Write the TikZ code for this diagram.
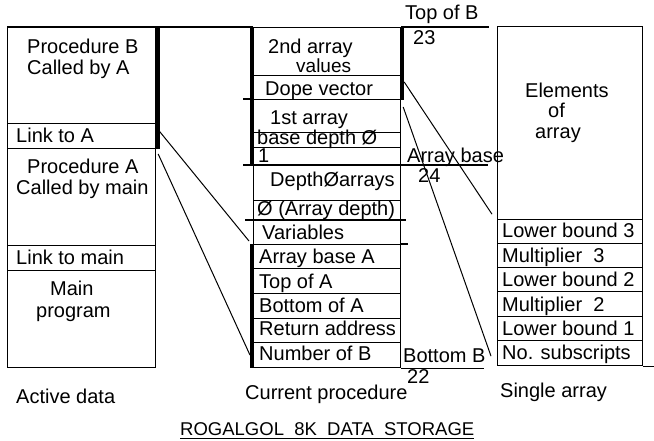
\documentclass[tikz,border=0pt]{standalone}
\usepackage{fontspec}
\setmainfont{Liberation Sans}
\usetikzlibrary{calc}
\begin{document}
\begin{tikzpicture}[x=1pt,y=-1pt,
  cell/.style={draw, line width=1.2pt, rectangle, inner sep=0pt, anchor=north west},
  txt/.style={anchor=base west, inner sep=0pt, font=\fontsize{20}{22}\selectfont},
  boldedge/.style={line width=4.5pt},
  rule/.style={line width=1.2pt},
  link/.style={line width=1pt}]
\useasboundingbox (0,0) rectangle (654,441);

% ---- left column: active data
\node[cell, minimum width=148, minimum height=96] (procB) at (7,27) {};
\node[cell, minimum width=148, minimum height=25] (linkA) at (7,123) {};
\node[cell, minimum width=148, minimum height=97] (procA) at (7,148) {};
\node[cell, minimum width=148, minimum height=25] (linkMain) at (7,245) {};
\node[cell, minimum width=148, minimum height=97] (mainProg) at (7,270) {};

% ---- middle column: current procedure
\node[cell, minimum width=147, minimum height=48] (arr2) at (253,27) {};
\node[cell, minimum width=147, minimum height=24] (dope) at (253,75) {};
\node[cell, minimum width=147, minimum height=33] (arr1) at (253,99) {};
\node[cell, minimum width=147, minimum height=15] (bdepth) at (253,132) {};
\node[cell, minimum width=147, minimum height=18] (one) at (253,147) {};
\node[cell, minimum width=147, minimum height=35] (depth0) at (253,165) {};
\node[cell, minimum width=147, minimum height=20] (adepth) at (253,200) {};
\node[cell, minimum width=147, minimum height=24] (vars) at (253,220) {};
\node[cell, minimum width=147, minimum height=24] (abaseA) at (253,244) {};
\node[cell, minimum width=147, minimum height=25] (topA) at (253,268) {};
\node[cell, minimum width=147, minimum height=25] (botA) at (253,293) {};
\node[cell, minimum width=147, minimum height=24] (retaddr) at (253,318) {};
\node[cell, minimum width=147, minimum height=25] (numB) at (253,342) {};

% ---- right column: single array
\node[cell, minimum width=145, minimum height=193] (elems) at (497,26) {};
\node[cell, minimum width=145, minimum height=24] (lbA) at (497,219) {};
\node[cell, minimum width=145, minimum height=24] (mA) at (497,243) {};
\node[cell, minimum width=145, minimum height=24] (lbB) at (497,267) {};
\node[cell, minimum width=145, minimum height=25] (mB) at (497,291) {};
\node[cell, minimum width=145, minimum height=24] (lbC) at (497,316) {};
\node[cell, minimum width=145, minimum height=25] (nsub) at (497,340) {};

% ---- heavy edges
\draw[boldedge] ($(procB.north east)+(1.5,0)$) -- ($(linkA.south east)+(1.5,0)$);
\draw[boldedge] ($(arr2.north west)+(-1,0)$) -- ($(one.south west)+(-1,0)$);
\draw[boldedge] ($(abaseA.north west)+(-1,0)$) -- ($(numB.south west)+(-1,0)$);
\draw[boldedge] ($(arr2.north east)+(1,0)$) -- ($(dope.south east)+(1,0)$);

% ---- horizontal rules
\draw[rule] (procB.north west) -- (arr2.north west);
\draw[rule] (arr2.north east) -- ++(88,0);
\draw[rule] ($(arr1.north west)+(-10,0)$) -- (arr1.north west);
\draw[rule] ($(depth0.north west)+(-10,0)$) -- ($(depth0.north east)+(87,0)$);
\draw[rule] ($(vars.north west)+(-8,0)$) -- ($(vars.north east)+(5,0)$);
\draw[rule] (abaseA.north east) -- ++(7,0);
\draw[rule] (numB.south east) -- ++(83,0);
\draw[rule] (nsub.south east) -- ++(12,0);

% ---- connectors
\draw[link] ($(linkA.north east)+(3,8)$) -- ($(abaseA.north west)+(-4,-3)$);
\draw[link] ($(procA.north east)+(2,6)$) -- ($(numB.west)+(-3,0)$);
\draw[link] ($(dope.north east)+(3,7)$) -- ($(elems.south west)+(-5,-6)$);
\draw[link] ($(arr1.north east)+(2,8)$) -- ($(nsub.west)+(-6,3)$);

% ---- texts, left
\node[txt] (tProcB) at (27,54) {Procedure B};
\node[txt] (tCalledA) at (27,75) {Called by A};
\node[txt] (tLinkA) at (16,143) {Link to A};
\node[txt] (tProcA) at (27,174) {Procedure A};
\node[txt] (tCalledMain) at (16,195) {Called by main};
\node[txt] (tLinkMain) at (16,265) {Link to main};
\node[txt] (tMain) at (50,295) {Main};
\node[txt] (tProgram) at (36,317) {program};
\node[txt] (tActive) at (16,403) {Active data};

% ---- texts, middle
\node[txt] (t2nd) at (268,53.5) {2nd array};
\node[txt, font=\fontsize{19}{21}\selectfont] (tValues) at (296,72.5) {values};
\node[txt] (tDope) at (265,96) {Dope vector};
\node[txt] (t1st) at (270,125) {1st array};
\node[txt] (tBase) at (257,145) {base depth Ø};
\node[txt] (tOne) at (258,163) {1};
\node[txt] (tDepth) at (270,187) {DepthØarrays};
\node[txt] (tAdepth) at (257,216) {Ø (Array depth)};
\node[txt] (tVars) at (262,240) {Variables};
\node[txt] (tAbaseA) at (259,264) {Array base A};
\node[txt] (tTopA) at (259,288) {Top of A};
\node[txt] (tBotA) at (259,312) {Bottom of A};
\node[txt] (tRet) at (259,335) {Return address};
\node[txt] (tNumB) at (259,360) {Number of B};
\node[txt] (tCurrent) at (245,399) {Current procedure};
\node[txt] (t22) at (407,383) {22};
\node[txt] (tTopB) at (405,20) {Top of B};
\node[txt] (t23) at (413,45) {23};
\node[txt] (tArrBase) at (407,163) {Array base};
\node[txt] (t24) at (418,183) {24};
\node[txt] (tBotB) at (403,362) {Bottom B};

% ---- texts, right
\node[txt] (tElem) at (525,98) {Elements};
\node[txt] (tOf) at (548,118) {of};
\node[txt] (tArray) at (535,139) {array};
\node[txt] (tLb3) at (502,238) {Lower bound 3};
\node[txt] (tM3) at (502,262) {Multiplier\ \ 3};
\node[txt] (tLb2) at (502,286) {Lower bound 2};
\node[txt] (tM2) at (502,311) {Multiplier\ \ 2};
\node[txt] (tLb1) at (502,335) {Lower bound 1};
\node[txt] (tNsub) at (502,359) {No. subscripts};
\node[txt] (tSingle) at (500,397) {Single array};

% ---- title
\node[txt, font=\fontsize{18.5}{20}\selectfont] (title) at (180,435) {ROGALGOL\ \ 8K\ \ DATA\ \ STORAGE};
\draw[rule] ($(title.base west)+(0,3.5)$) -- ($(title.base east)+(0,3.5)$);
\end{tikzpicture}
\end{document}
